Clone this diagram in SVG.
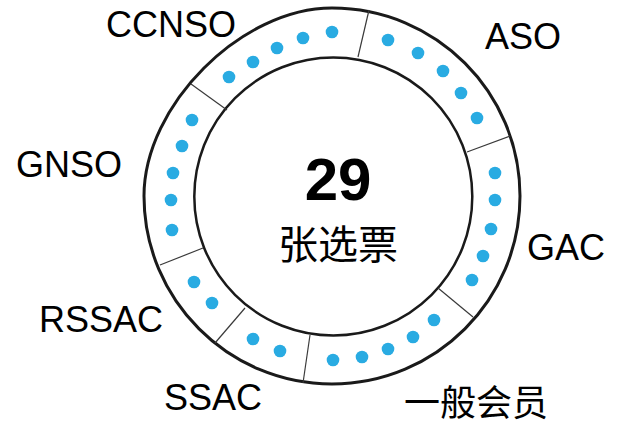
<svg xmlns="http://www.w3.org/2000/svg" width="625" height="426" viewBox="0 0 625 426">
  <style>
    .lbl { font-family: "Liberation Sans", Arial, sans-serif; font-size: 36px; fill: #000; }
    .cjk { font-family: "Noto Sans CJK SC", "Liberation Sans", sans-serif; fill: #000; }
    .dot { fill: #29abe2; }
    .div { stroke: #3a3a3a; stroke-width: 1.2; fill: none; }
  </style>
  <rect width="625" height="426" fill="#ffffff"/>
  <g id="ring">
    <path d="M 332 8 C 435.8 8, 520 92.2, 520 196 C 520 299.8, 435.8 384, 332 384 C 228.2 384, 144 299.8, 144 196 C 144 105.3, 241.3 8, 332 8 Z" fill="none" stroke="#1a1a1a" stroke-width="3"/>
    <circle cx="333.3" cy="196.5" r="139" fill="none" stroke="#1a1a1a" stroke-width="2.5"/>
  </g>
  <g id="connectors">
    <line class="div" x1="358" y1="57" x2="369" y2="10"/>
    <line class="div" x1="467" y1="152" x2="510" y2="136"/>
    <line class="div" x1="438" y1="288" x2="473" y2="317"/>
    <line class="div" x1="310" y1="335" x2="303" y2="383"/>
    <line class="div" x1="245" y1="308" x2="215" y2="343"/>
    <line class="div" x1="203" y1="248" x2="160" y2="265"/>
    <line class="div" x1="227" y1="110" x2="191" y2="84"/>
  </g>
  <g id="node-aso">
    <circle class="dot" cx="388" cy="40" r="6.3"/>
    <circle class="dot" cx="418" cy="53" r="6.3"/>
    <circle class="dot" cx="443" cy="71" r="6.3"/>
    <circle class="dot" cx="461" cy="93" r="6.3"/>
    <circle class="dot" cx="477" cy="118" r="6.3"/>
    <text class="lbl" x="485" y="49">ASO</text>
  </g>
  <g id="node-gac">
    <circle class="dot" cx="495" cy="173" r="6.3"/>
    <circle class="dot" cx="495" cy="200" r="6.3"/>
    <circle class="dot" cx="491" cy="229" r="6.3"/>
    <circle class="dot" cx="483" cy="256" r="6.3"/>
    <circle class="dot" cx="472" cy="280" r="6.3"/>
    <text class="lbl" x="527" y="260">GAC</text>
  </g>
  <g id="node-general">
    <circle class="dot" cx="434" cy="320" r="6.3"/>
    <circle class="dot" cx="413" cy="337" r="6.3"/>
    <circle class="dot" cx="388" cy="349" r="6.3"/>
    <circle class="dot" cx="362" cy="357" r="6.3"/>
    <circle class="dot" cx="333" cy="360" r="6.3"/>
    <text class="cjk" x="476" y="415.5" font-size="36" text-anchor="middle">一般会员</text>
  </g>
  <g id="node-ssac">
    <circle class="dot" cx="253" cy="339" r="6.3"/>
    <circle class="dot" cx="280" cy="351" r="6.3"/>
    <text class="lbl" x="164" y="410">SSAC</text>
  </g>
  <g id="node-rssac">
    <circle class="dot" cx="194" cy="282" r="6.3"/>
    <circle class="dot" cx="212" cy="303" r="6.3"/>
    <text class="lbl" x="39" y="332">RSSAC</text>
  </g>
  <g id="node-gnso">
    <circle class="dot" cx="192" cy="120" r="6.3"/>
    <circle class="dot" cx="182" cy="146" r="6.3"/>
    <circle class="dot" cx="173" cy="173" r="6.3"/>
    <circle class="dot" cx="171" cy="200" r="6.3"/>
    <circle class="dot" cx="172" cy="230" r="6.3"/>
    <text class="lbl" x="16" y="177">GNSO</text>
  </g>
  <g id="node-ccnso">
    <circle class="dot" cx="229" cy="77" r="6.3"/>
    <circle class="dot" cx="253" cy="62" r="6.3"/>
    <circle class="dot" cx="277" cy="48" r="6.3"/>
    <circle class="dot" cx="303" cy="38" r="6.3"/>
    <circle class="dot" cx="332" cy="32" r="6.3"/>
    <text class="lbl" x="106" y="37">CCNSO</text>
  </g>
  <g id="node-center">
    <text x="338" y="200" font-family="'Liberation Sans', Arial, sans-serif" font-size="60" font-weight="bold" text-anchor="middle" fill="#000">29</text>
    <text class="cjk" x="338" y="259" font-size="40" text-anchor="middle">张选票</text>
  </g>
</svg>
